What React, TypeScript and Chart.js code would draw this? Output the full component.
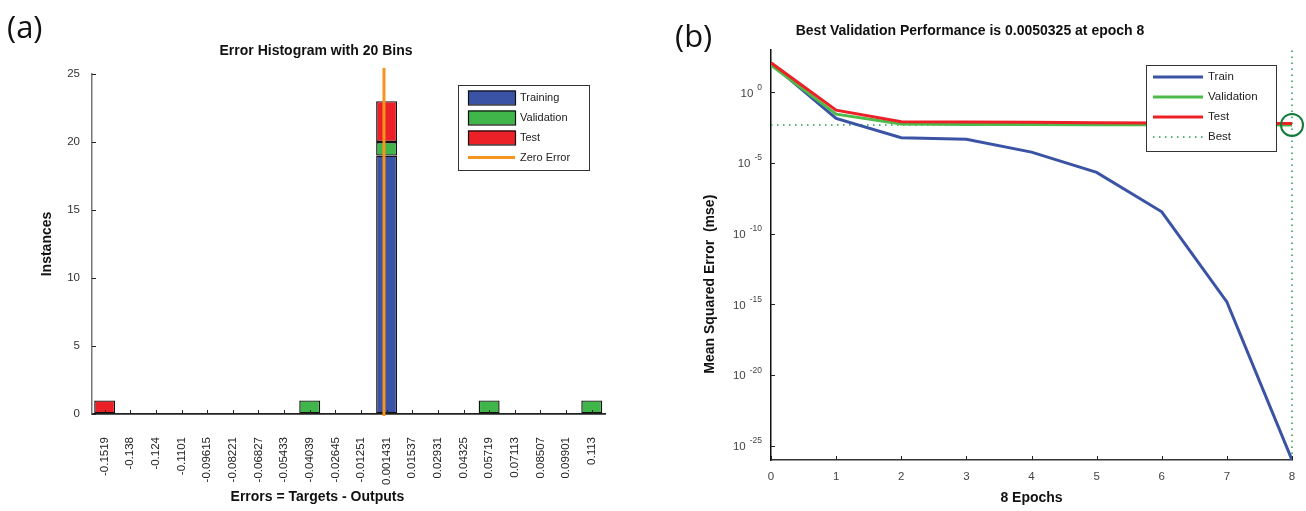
import React, { useEffect, useRef } from 'react';
import { Chart, registerables } from 'chart.js';

Chart.register(...registerables);
Chart.defaults.font.family = '"Liberation Sans", Arial, Helvetica, sans-serif';

// ---------- (a) Error histogram ----------
const binLabels = [
  '-0.1519', '-0.138', '-0.124', '-0.1101', '-0.09615', '-0.08221', '-0.06827', '-0.05433',
  '-0.04039', '-0.02645', '-0.01251', '0.001431', '0.01537', '0.02931', '0.04325', '0.05719',
  '0.07113', '0.08507', '0.09901', '0.113',
];
const trainingCounts = [0, 0, 0, 0, 0, 0, 0, 0, 0, 0, 0, 19, 0, 0, 0, 0, 0, 0, 0, 0];
const validationCounts = [0, 0, 0, 0, 0, 0, 0, 0, 1, 0, 0, 1, 0, 0, 0, 1, 0, 0, 0, 1];
const testCounts = [1, 0, 0, 0, 0, 0, 0, 0, 0, 0, 0, 3, 0, 0, 0, 0, 0, 0, 0, 0];
const zeroErrorX = [0, 0];
const zeroErrorY = [-0.15, 25.44];
const histXRange = [-0.1588, 0.1202];
const histYRange = [0, 25];

// ---------- (b) Performance ----------
const epochs = [0, 1, 2, 3, 4, 5, 6, 7, 8];
const trainPerf = [112, 0.0145, 6.2e-4, 4.8e-4, 6e-5, 2.2e-6, 3.6e-9, 1.5e-15, 1e-26];
const valPerf = [85, 0.029, 0.0058, 0.0054, 0.0053, 0.0052, 0.0051, 0.00505, 0.0050325];
const testPerf = [124, 0.056, 0.0083, 0.0081, 0.0076, 0.0072, 0.0069, 0.0066, 0.0064];
const bestEpoch = 8;
const bestPerf = 0.0050325;
const perfYTickValues = [1e-25, 1e-20, 1e-15, 1e-10, 1e-5, 1];
const perfYTickBase = '10';
const perfYTickExponents = ['-25', '-20', '-15', '-10', '-5', '0'];
const perfYRange = [1e-26, 1e3];
const perfXRange = [0, 8];

const BLUE = '#3a53a4';
const GREEN = '#3fb54a';
const RED = '#ec2027';
const ORANGE = '#f7941d';
const BEST_GREEN = '#1e9a52';
const CIRCLE_GREEN = '#137a3a';
const FONT = '"Liberation Sans", Arial, sans-serif';

const binCenters = binLabels.map((l) => parseFloat(l));

const innerTicks = {
  id: 'innerTicks',
  afterDatasetsDraw(chart: any, _a: any, opts: any) {
    const ctx = chart.ctx;
    ctx.save();
    ctx.strokeStyle = opts.color || '#222';
    ctx.lineWidth = opts.width || 1;
    const len = opts.length || 4;
    ['x', 'y'].forEach((id) => {
      const s = chart.scales[id];
      if (!s) return;
      s.ticks.forEach((_t: any, i: number) => {
        const p = Math.round(s.getPixelForTick(i)) + 0.5;
        ctx.beginPath();
        if (s.isHorizontal()) {
          ctx.moveTo(p, s.top);
          ctx.lineTo(p, s.top - len);
        } else {
          ctx.moveTo(s.right, p);
          ctx.lineTo(s.right + len, p);
        }
        ctx.stroke();
      });
    });
    ctx.restore();
  },
};

// draws "10" with a raised exponent next to each tick of the y scale
const powerLabels = {
  id: 'powerLabels',
  afterDraw(chart: any, _a: any, o: any) {
    if (!o || !o.display) return;
    const s = chart.scales.y;
    const ctx = chart.ctx;
    ctx.save();
    ctx.fillStyle = o.color;
    ctx.textBaseline = 'middle';
    s.ticks.forEach((_t: any, i: number) => {
      const y = s.getPixelForTick(i);
      const right = s.right - o.padding;
      ctx.font = `${o.expSize}px ${FONT}`;
      ctx.textAlign = 'right';
      const exp = o.exponents[i];
      const ew = ctx.measureText(exp).width;
      ctx.fillText(exp, right, y - o.raise);
      ctx.font = `${o.baseSize}px ${FONT}`;
      ctx.fillText(o.base, right - ew - o.gap, y + 1);
    });
    ctx.restore();
  },
};

const boxLegend = {
  id: 'boxLegend',
  afterDraw(chart: any, _a: any, o: any) {
    if (!o || !o.display) return;
    const ctx = chart.ctx;
    ctx.save();
    ctx.fillStyle = '#fff';
    ctx.fillRect(o.left, o.top, o.width, o.height);
    ctx.strokeStyle = '#333';
    ctx.lineWidth = 1;
    ctx.strokeRect(o.left + 0.5, o.top + 0.5, o.width, o.height);
    const items = chart.data.datasets.filter((d: any) => d.label);
    ctx.font = `${o.fontSize}px ${FONT}`;
    ctx.textBaseline = 'middle';
    ctx.textAlign = 'left';
    items.forEach((d: any, i: number) => {
      const cy = o.top + o.rowTop + i * o.rowGap;
      const isBar = (d.type || chart.config.type) === 'bar';
      if (isBar) {
        ctx.fillStyle = d.backgroundColor;
        ctx.fillRect(o.swatchX, cy - o.swatchH / 2, o.swatchW, o.swatchH);
        ctx.strokeStyle = '#111';
        ctx.lineWidth = 1.2;
        ctx.strokeRect(o.swatchX + 0.5, cy - o.swatchH / 2 + 0.5, o.swatchW, o.swatchH);
      } else {
        ctx.strokeStyle = d.borderColor;
        ctx.lineWidth = d.borderWidth;
        ctx.setLineDash(d.borderDash || []);
        ctx.beginPath();
        ctx.moveTo(o.swatchX, cy);
        ctx.lineTo(o.swatchX + o.swatchW, cy);
        ctx.stroke();
        ctx.setLineDash([]);
      }
      ctx.fillStyle = '#222';
      ctx.fillText(d.label, o.textX, cy);
    });
    ctx.restore();
  },
};

export default function App() {
  const refA = useRef<HTMLCanvasElement>(null);
  const refB = useRef<HTMLCanvasElement>(null);

  useEffect(() => {
    const barStyle = { borderColor: '#111', borderWidth: 1.4, borderSkipped: false, stack: 'bins', barPercentage: 0.82, categoryPercentage: 1 };
    const chartA = new Chart(refA.current as HTMLCanvasElement, {
      type: 'bar',
      data: {
        datasets: [
          { label: 'Training', data: binCenters.map((x, i) => ({ x, y: trainingCounts[i] })), backgroundColor: BLUE, ...barStyle } as any,
          { label: 'Validation', data: binCenters.map((x, i) => ({ x, y: validationCounts[i] })), backgroundColor: GREEN, ...barStyle } as any,
          { label: 'Test', data: binCenters.map((x, i) => ({ x, y: testCounts[i] })), backgroundColor: RED, ...barStyle } as any,
          {
            type: 'line', label: 'Zero Error', data: zeroErrorY.map((y, i) => ({ x: zeroErrorX[i], y })),
            borderColor: ORANGE, borderWidth: 3, pointRadius: 0, clip: false, order: -1,
          } as any,
        ],
      },
      options: {
        animation: false, responsive: true, maintainAspectRatio: false, events: [],
        layout: { padding: 0 },
        plugins: {
          legend: { display: false }, tooltip: { enabled: false },
          title: { display: true, text: 'Error Histogram with 20 Bins', color: '#111', font: { size: 14, weight: 'bold' }, padding: { top: 42.6, bottom: 14.6 } },
          innerTicks: { length: 4, color: '#222', width: 1 },
          boxLegend: { display: true, left: 458, top: 85, width: 131, height: 85, rowTop: 12.5, rowGap: 20, swatchX: 468, swatchW: 47, swatchH: 14, textX: 520, fontSize: 11 },
        } as any,
        scales: {
          x: {
            type: 'linear', min: histXRange[0], max: histXRange[1], offset: false,
            grid: { display: true, drawOnChartArea: false, drawTicks: false },
            border: { color: '#222', width: 1.8 },
            afterBuildTicks: (s: any) => { s.ticks = binCenters.map((v) => ({ value: v })); },
            afterFit: (s: any) => { s.height = 97; s.paddingRight = 27; s.paddingLeft = 0; },
            ticks: { autoSkip: false, minRotation: 90, maxRotation: 90, padding: 23, color: '#222', font: { size: 11.5 }, callback: (_v: any, i: number) => binLabels[i] },
            title: { display: true, text: 'Errors = Targets - Outputs' + ' '.repeat(16), color: '#111', font: { size: 14, weight: 'bold' }, padding: { top: 0, bottom: 5.6 } },
          } as any,
          y: {
            min: histYRange[0], max: histYRange[1],
            grid: { display: true, drawOnChartArea: false, drawTicks: false },
            border: { color: '#777', width: 1.5 },
            afterFit: (s: any) => { s.width = 92; },
            ticks: { stepSize: 5, padding: 12, color: '#333', font: { size: 11.5 } },
            title: { display: true, text: 'Instances', color: '#111', font: { size: 14, weight: 'bold' }, padding: { top: 38.6, bottom: 0 } },
          },
        },
      },
      plugins: [innerTicks, boxLegend],
    });

    const lineBase = { pointRadius: 0, borderWidth: 3, fill: false, tension: 0 };
    const chartB = new Chart(refB.current as HTMLCanvasElement, {
      type: 'line',
      data: {
        datasets: [
          { label: 'Train', data: epochs.map((x, i) => ({ x, y: trainPerf[i] })), borderColor: BLUE, order: 3, ...lineBase } as any,
          { label: 'Validation', data: epochs.map((x, i) => ({ x, y: valPerf[i] })), borderColor: '#4cbb4a', order: 2, ...lineBase } as any,
          { label: 'Test', data: epochs.map((x, i) => ({ x, y: testPerf[i] })), borderColor: RED, order: 1, ...lineBase } as any,
          {
            label: 'Best', data: perfXRange.map((x) => ({ x, y: bestPerf })),
            borderColor: BEST_GREEN, borderWidth: 1.5, borderDash: [1.5, 4.5], pointRadius: 0, order: 4,
          } as any,
          {
            data: perfYRange.map((y) => ({ x: bestEpoch, y })),
            borderColor: BEST_GREEN, borderWidth: 1.5, borderDash: [1.5, 4.5], pointRadius: 0, order: 4, clip: false,
          } as any,
          {
            data: [{ x: bestEpoch, y: bestPerf }], showLine: false, pointRadius: 11, pointBorderWidth: 2,
            pointBorderColor: CIRCLE_GREEN, pointBackgroundColor: 'rgba(0,0,0,0)', borderColor: CIRCLE_GREEN, order: 0, clip: false,
          } as any,
        ],
      },
      options: {
        animation: false, responsive: true, maintainAspectRatio: false, events: [],
        layout: { padding: 0 },
        plugins: {
          legend: { display: false }, tooltip: { enabled: false },
          title: { display: true, text: 'Best Validation Performance is 0.0050325 at epoch 8', color: '#111', font: { size: 14, weight: 'bold' }, padding: { top: 22.6, bottom: 10.6 } },
          innerTicks: { length: 4, color: '#222', width: 1 },
          powerLabels: { display: true, base: perfYTickBase, exponents: perfYTickExponents, color: '#444', baseSize: 11.5, expSize: 8.5, raise: 5, gap: 4, padding: 9 },
          boxLegend: { display: true, left: 512, top: 65, width: 130, height: 86, rowTop: 12, rowGap: 20, swatchX: 519, swatchW: 50, swatchH: 3, textX: 574, fontSize: 11.5 },
        } as any,
        scales: {
          x: {
            type: 'linear', min: perfXRange[0], max: perfXRange[1], offset: false,
            grid: { display: true, drawOnChartArea: false, drawTicks: false },
            border: { color: '#333', width: 1.5 },
            afterFit: (s: any) => { s.height = 51; s.paddingRight = 14; s.paddingLeft = 0; },
            ticks: { stepSize: 1, padding: 10, color: '#444', font: { size: 11.5 } },
            title: { display: true, text: '8 Epochs', color: '#111', font: { size: 14, weight: 'bold' }, padding: { top: 0, bottom: 4.6 } },
          } as any,
          y: {
            type: 'logarithmic', min: perfYRange[0], max: perfYRange[1],
            grid: { display: true, drawOnChartArea: false, drawTicks: false },
            border: { color: '#111', width: 1.5 },
            afterBuildTicks: (s: any) => { s.ticks = perfYTickValues.map((v) => ({ value: v })); },
            afterFit: (s: any) => { s.width = 137; },
            ticks: { display: false },
            title: { display: true, text: 'Mean Squared Error  (mse)' + ' '.repeat(15), color: '#111', font: { size: 14, weight: 'bold' }, padding: { top: 67.6, bottom: 0 } },
          } as any,
        },
      },
      plugins: [innerTicks, powerLabels, boxLegend],
    });

    return () => { chartA.destroy(); chartB.destroy(); };
  }, []);

  const panelLabel: React.CSSProperties = { position: 'absolute', fontFamily: '"Open Sans", "Noto Sans", sans-serif', fontSize: 31, lineHeight: '36px', color: '#111' };

  return (
    <div style={{ position: 'absolute', left: 0, top: 0, width: 1306, height: 511, background: '#fff', overflow: 'hidden' }}>
      <div style={{ position: 'absolute', left: 0, top: 0, width: 632, height: 511 }}><canvas ref={refA} /></div>
      <div style={{ position: 'absolute', left: 634, top: 0, width: 672, height: 511 }}><canvas ref={refB} /></div>
      <div style={{ ...panelLabel, left: 7, top: 8 }}>(a)</div>
      <div style={{ ...panelLabel, left: 675, top: 17 }}>(b)</div>
    </div>
  );
}
